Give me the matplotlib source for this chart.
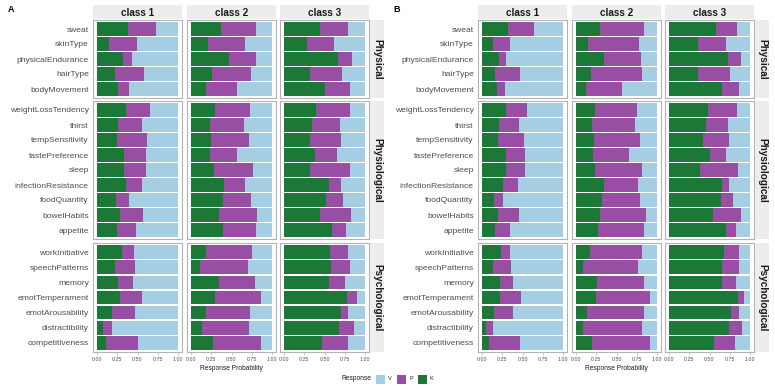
import matplotlib
matplotlib.use('Agg')
import matplotlib.pyplot as plt
from matplotlib.patches import Rectangle

plt.rcParams['font.family'] = ['Liberation Sans', 'DejaVu Sans']

classes = ['class 1', 'class 2', 'class 3']
groups = ['Physical', 'Physiological', 'Psychological']
responses = ['V', 'P', 'K']
colors = {'V': '#A6CEE3', 'P': '#984EA3', 'K': '#1B7837'}

# items, listed top to bottom as drawn
physical_items = ['sweat', 'skinType', 'physicalEndurance', 'hairType', 'bodyMovement']
physiological_items = ['weightLossTendency', 'thirst', 'tempSensitivity', 'tastePreference',
                       'sleep', 'infectionResistance', 'foodQuantity', 'bowelHabits', 'appetite']
psychological_items = ['workInitiative', 'speechPatterns', 'memory', 'emotTemperament',
                       'emotArousability', 'distractibility', 'competitiveness']

# panel A: probability of K and P per class (V is the rest)
A_physical_K = [[.38, .15, .32, .22, .26], [.37, .21, .47, .26, .18], [.45, .28, .67, .32, .50]]
A_physical_P = [[.35, .34, .11, .36, .13], [.43, .46, .33, .48, .39], [.34, .34, .17, .40, .31]]
A_physiological_K = [[.36, .26, .25, .33, .33, .36, .23, .28, .25],
                     [.29, .24, .25, .23, .28, .41, .40, .35, .39],
                     [.40, .34, .32, .38, .32, .55, .52, .44, .59]]
A_physiological_P = [[.30, .30, .37, .27, .28, .20, .16, .29, .23],
                     [.44, .42, .47, .34, .49, .26, .34, .46, .41],
                     [.42, .35, .39, .27, .50, .16, .21, .39, .18]]
A_psychological_K = [[.31, .22, .26, .28, .19, .07, .11],
                     [.19, .11, .34, .29, .18, .13, .27],
                     [.57, .58, .55, .78, .71, .68, .47]]
A_psychological_P = [[.15, .25, .19, .27, .28, .12, .39],
                     [.56, .59, .45, .57, .55, .59, .59],
                     [.22, .24, .20, .12, .08, .19, .32]]

# panel B
B_physical_K = [[.32, .13, .21, .16, .19], [.29, .15, .35, .18, .12], [.58, .36, .73, .36, .65]]
B_physical_P = [[.32, .22, .09, .31, .09], [.55, .63, .45, .64, .45], [.26, .34, .16, .39, .22]]
B_physiological_K = [[.30, .21, .20, .29, .30, .26, .15, .20, .16],
                     [.24, .20, .22, .21, .23, .35, .32, .29, .27],
                     [.48, .46, .42, .50, .38, .66, .64, .54, .70]]
B_physiological_P = [[.26, .25, .32, .24, .23, .18, .11, .26, .18],
                     [.51, .53, .57, .44, .58, .41, .47, .58, .57],
                     [.36, .27, .32, .20, .47, .08, .15, .35, .13]]
B_psychological_K = [[.23, .13, .22, .22, .15, .05, .09],
                     [.17, .09, .26, .25, .14, .09, .20],
                     [.68, .66, .66, .85, .77, .74, .55]]
B_psychological_P = [[.11, .23, .16, .26, .23, .09, .38],
                     [.64, .67, .58, .67, .70, .73, .72],
                     [.19, .20, .17, .08, .10, .16, .26]]

W, H = 775, 390
fig = plt.figure(figsize=(W / 100, H / 100), dpi=100)


def box(x, y, w, h):
    # pixel box (top-left origin) -> figure fraction rect
    return [x / W, 1 - (y + h) / H, w / W, h / H]


row_tops = [20, 101, 243]
row_heights = [78, 138, 109]
col_w = 89
strip_grey = '#EDEDED'


def draw_panel(letter, col_x, strip_x, items_list, K_list, P_list):
    fig.text((col_x[0] - 85) / W, 1 - 9 / H, letter, fontsize=6.5, fontweight='bold', va='center')
    for c, cname in enumerate(classes):
        sax = fig.add_axes(box(col_x[c], 5, col_w, 14))
        sax.set_facecolor(strip_grey)
        sax.set_xticks([]); sax.set_yticks([])
        for s in sax.spines.values():
            s.set_visible(False)
        sax.text(0.5, 0.45, cname, ha='center', va='center', fontsize=7.2,
                 fontweight='bold', color='#1A1A1A', transform=sax.transAxes)
    for g, gname in enumerate(groups):
        items = items_list[g]
        n = len(items)
        ypos = list(range(n, 0, -1))
        for c in range(3):
            ax = fig.add_axes(box(col_x[c], row_tops[g], col_w, row_heights[g]))
            k = K_list[g][c]
            p = P_list[g][c]
            v = [1 - a - b for a, b in zip(k, p)]
            left_p = k
            left_v = [a + b for a, b in zip(k, p)]
            ax.barh(ypos, v, left=left_v, height=0.9, color=colors['V'], linewidth=0)
            ax.barh(ypos, p, left=left_p, height=0.9, color=colors['P'], linewidth=0)
            ax.barh(ypos, k, height=0.9, color=colors['K'], linewidth=0)
            ax.set_xlim(-0.05, 1.05)
            ax.set_ylim(0.4, n + 0.6)
            for s in ax.spines.values():
                s.set_color('#B3B3B3')
                s.set_linewidth(0.8)
            ax.tick_params(axis='x', length=2, width=0.5, color='#B3B3B3',
                           labelcolor='#4D4D4D', pad=1.5)
            ax.tick_params(axis='y', length=0, labelcolor='#4D4D4D', pad=3)
            ax.set_xticks([0, 0.25, 0.5, 0.75, 1.0])
            ax.set_yticks(ypos)
            if c == 0:
                ax.set_yticklabels(items, fontsize=6.1)
            else:
                ax.set_yticklabels([])
            if g == 2:
                ax.set_xticklabels(['0.00', '0.25', '0.50', '0.75', '1.00'], fontsize=3.8)
                if c == 1:
                    ax.set_xlabel('Response Probability', fontsize=4.8, color='#1A1A1A', labelpad=2)
            else:
                ax.set_xticklabels([])
                ax.tick_params(axis='x', length=0)
        rax = fig.add_axes(box(strip_x, row_tops[g], 14, row_heights[g]))
        rax.set_facecolor(strip_grey)
        rax.set_xticks([]); rax.set_yticks([])
        for s in rax.spines.values():
            s.set_visible(False)
        rax.text(0.5, 0.5, gname, ha='center', va='center', rotation=270, fontsize=7.2,
                 fontweight='bold', color='#1A1A1A', transform=rax.transAxes)


items_all = [physical_items, physiological_items, psychological_items]
draw_panel('A', [93, 187, 280], 370, items_all,
           [A_physical_K, A_physiological_K, A_psychological_K],
           [A_physical_P, A_physiological_P, A_psychological_P])
draw_panel('B', [478, 572, 665], 755, items_all,
           [B_physical_K, B_physiological_K, B_psychological_K],
           [B_physical_P, B_physiological_P, B_psychological_P])

# legend
fig.text(342 / W, 1 - 379 / H, 'Response', fontsize=4.8, va='center', ha='left', color='#1A1A1A')
lx = 376
for r in responses:
    fig.patches.append(Rectangle((lx / W, 1 - 384 / H), 9 / W, 9 / H, transform=fig.transFigure,
                                 facecolor=colors[r], edgecolor='none'))
    fig.text((lx + 12) / W, 1 - 379 / H, r, fontsize=4, va='center', ha='left', color='#1A1A1A')
    lx += 21

fig.savefig('out.png', dpi=100)
